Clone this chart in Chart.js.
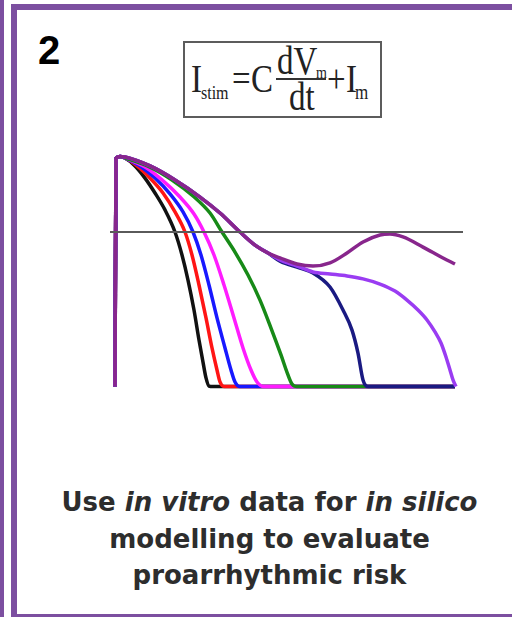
<!DOCTYPE html>
<html>
<head>
<meta charset="utf-8">
<script src="https://cdn.jsdelivr.net/npm/chart.js@4.4.0/dist/chart.umd.min.js"></script>
<style>
  html, body { margin: 0; padding: 0; background: #fff; }
  .page { position: relative; width: 512px; height: 617px; overflow: hidden; background: #fff; }
  .rule { position: absolute; background: #7c4fa0; }
  .strip { left: 0; top: 0; width: 4px; height: 617px; }
  .edge-left { left: 11px; top: 4px; width: 6px; height: 613px; }
  .edge-top { left: 11px; top: 4px; width: 501px; height: 6px; }
  .edge-bottom { left: 11px; top: 614px; width: 501px; height: 3px; }
  .step { position: absolute; left: 38px; top: 30px; font: bold 40px "Liberation Sans", Arial, sans-serif; color: #000; line-height: 1; }
  .eqbox { position: absolute; left: 183px; top: 41px; width: 195px; height: 73px; border: 2px solid #5c5c5c; }
  .eq { position: absolute; font-family: "Liberation Serif", "Times New Roman", serif; color: #222; line-height: 1; white-space: pre; }
  .bar { position: absolute; left: 276px; top: 78px; width: 50px; height: 2px; background: #333; }
  .wrap { position: absolute; left: 100px; top: 140px; width: 380px; height: 260px; }
  .caption { position: absolute; left: 17px; top: 484px; width: 505px; text-align: center;
             font: bold 26px "DejaVu Sans", sans-serif; color: #2d2d2d; line-height: 36.5px; }
</style>
</head>
<body>
<div class="page">
  <div class="rule strip"></div>
  <div class="rule edge-left"></div>
  <div class="rule edge-top"></div>
  <div class="rule edge-bottom"></div>
  <div class="step">2</div>
  <div class="eqbox"></div>
  <div class="bar"></div>
  <div id="eq"></div>
  <div class="wrap"><canvas id="apChart"></canvas></div>
  <div class="caption">Use <i>in vitro</i> data for <i>in silico</i><br>modelling to evaluate<br>proarrhythmic risk</div>
</div>
<script>
// membrane potential traces, time in ms, voltage in mV
const upstrokeTime = [0, 2, 10];
const upstrokeVm = [-84, 40, 41];

const blackTime = [20, 40, 60, 80, 100, 120, 134, 146, 158, 168, 176, 182, 188, 196, 680];
const blackVm = [40.2, 35.9, 29.3, 21.2, 12.0, 0, -12.5, -26.1, -42.4, -58.7, -70.7, -79.3, -83.7, -84, -84];

const redTime = [20, 44, 70, 96, 120, 140, 154, 168, 182, 194, 204, 210, 218, 680];
const redVm = [40.2, 35.9, 29.3, 21.2, 10.9, 0, -12.5, -28.8, -46.7, -63.0, -75.0, -81.5, -84, -84];

const blueTime = [20, 50, 80, 110, 136, 156, 172, 188, 204, 220, 232, 240, 250, 680];
const blueVm = [40.2, 35.9, 29.3, 20.7, 10.9, 0, -12.5, -28.8, -46.7, -63.0, -75.0, -81.5, -84, -84];

const magentaTime = [20, 60, 94, 130, 158, 178, 198, 218, 238, 256, 272, 284, 298, 680];
const magentaVm = [40.2, 35.3, 28.3, 19.0, 9.8, 0, -12.5, -28.8, -46.7, -63.0, -75.0, -81.5, -84, -84];

const greenTime = [20, 70, 114, 156, 190, 214, 240, 266, 290, 312, 332, 346, 354, 364, 680];
const greenVm = [40.2, 35.3, 28.3, 19.6, 10.3, 0, -10.9, -23.4, -37.0, -52.2, -66.8, -77.7, -82.6, -84, -84];

// shared early repolarisation of the slowest three traces
const slowTime = [20, 70, 120, 170, 210, 250, 280, 306];
const slowVm = [40.8, 35.9, 28.3, 19.0, 10.3, 0, -7.1, -11.4];

const navyTime = [330, 370, 396, 430, 456, 474, 486, 496, 506, 680];
const navyVm = [-15.8, -19.6, -22.3, -29.9, -42.4, -53.3, -65.8, -80.4, -84, -84];

const violetTime = [330, 364, 396, 430, 464, 496, 530, 560, 584, 606, 624, 640, 652, 662, 670, 676, 682];
const violetVm = [-15.2, -18.5, -21.7, -22.8, -23.9, -25.5, -28.3, -32.1, -37.0, -42.4, -47.8, -54.3, -60.3, -67.9, -75.0, -80.4, -84];

const eadTime = [330, 364, 396, 430, 464, 496, 530, 550, 576, 616, 656, 680];
const eadVm = [-14.1, -17.4, -18.5, -16.8, -11.4, -5.4, -1.6, -1.1, -2.7, -8.2, -14.1, -17.4];

const zeroTime = [-10, 696];

function trace(times, volts) {
  return times.map((t, i) => ({ x: t, y: volts[i] }));
}
function withUpstroke(times, volts) {
  return trace(upstrokeTime.concat(times), upstrokeVm.concat(volts));
}
function withSlow(times, volts) {
  return withUpstroke(slowTime.concat(times), slowVm.concat(volts));
}

const curves = [
  { color: "#111111", data: withUpstroke(blackTime, blackVm), order: 8 },
  { color: "#ff1515", data: withUpstroke(redTime, redVm), order: 7 },
  { color: "#1818ff", data: withUpstroke(blueTime, blueVm), order: 6 },
  { color: "#ff1cff", data: withUpstroke(magentaTime, magentaVm), order: 5 },
  { color: "#178a17", data: withUpstroke(greenTime, greenVm), order: 4 },
  { color: "#1a1a82", data: withSlow(navyTime, navyVm), order: 3 },
  { color: "#9a3cf2", data: withSlow(violetTime, violetVm), order: 2 },
  { color: "#88268c", data: withSlow(eadTime, eadVm), order: 1 },
];

const datasets = curves.map((c) => ({
  data: c.data,
  borderColor: c.color,
  borderWidth: 3.5,
  pointRadius: 0,
  cubicInterpolationMode: "monotone",
  order: c.order,
}));
datasets.push({
  data: zeroTime.map((t) => ({ x: t, y: 0 })),
  borderColor: "#5a5a5a",
  borderWidth: 2,
  pointRadius: 0,
  order: 0,
});

new Chart(document.getElementById("apChart"), {
  type: "line",
  data: { datasets: datasets },
  options: {
    animation: false,
    responsive: true,
    maintainAspectRatio: false,
    events: [],
    layout: { padding: 0 },
    plugins: { legend: { display: false }, tooltip: { enabled: false } },
    scales: {
      x: { type: "linear", min: -30, max: 730, display: false },
      y: { min: -91.3, max: 50, display: false },
    },
  },
});

// equation pieces: text, font size, left, baseline
const eqPieces = [
  ["I", 33, 191, 93],
  ["stim", 16, 201, 99],
  ["=", 33, 232, 93],
  ["C", 33, 251, 93],
  ["dV", 33, 277, 75],
  ["m", 14, 316, 79],
  ["dt", 33, 289, 111],
  ["+", 33, 327, 93],
  ["I", 33, 346, 93],
  ["m", 17, 355, 99],
];
const eqHost = document.getElementById("eq");
eqPieces.forEach(([text, size, left, base]) => {
  const s = document.createElement("span");
  s.className = "eq";
  s.textContent = text;
  s.style.fontSize = size + "px";
  s.style.left = left + "px";
  const asc = 0.8375 * size;
  s.style.top = base - asc + "px";
  s.style.transformOrigin = "0 " + asc + "px";
  s.style.transform = "scaleY(1.2)";
  eqHost.appendChild(s);
});
</script>
</body>
</html>
